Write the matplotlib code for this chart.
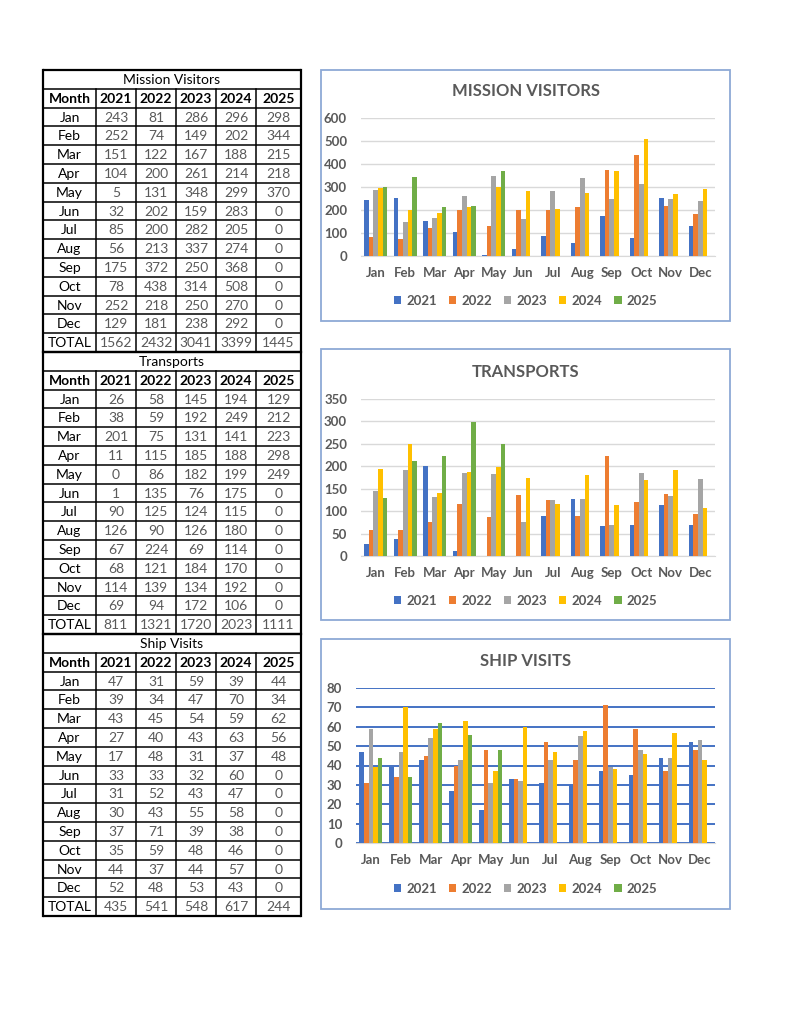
import numpy as np
import matplotlib
matplotlib.use("Agg")
from matplotlib import pyplot as plt
from matplotlib.patches import Rectangle

plt.rcParams['font.family'] = ['Lato', 'DejaVu Sans']

## Data ##
months = ["Jan", "Feb", "Mar", "Apr", "May", "Jun", "Jul", "Aug", "Sep", "Oct", "Nov", "Dec"]
years = ["2021", "2022", "2023", "2024", "2025"]

mission_2021 = [243, 252, 151, 104, 5, 32, 85, 56, 175, 78, 252, 129]
mission_2022 = [81, 74, 122, 200, 131, 202, 200, 213, 372, 438, 218, 181]
mission_2023 = [286, 149, 167, 261, 348, 159, 282, 337, 250, 314, 250, 238]
mission_2024 = [296, 202, 188, 214, 299, 283, 205, 274, 368, 508, 270, 292]
mission_2025 = [298, 344, 215, 218, 370, 0, 0, 0, 0, 0, 0, 0]

transports_2021 = [26, 38, 201, 11, 0, 1, 90, 126, 67, 68, 114, 69]
transports_2022 = [58, 59, 75, 115, 86, 135, 125, 90, 224, 121, 139, 94]
transports_2023 = [145, 192, 131, 185, 182, 76, 124, 126, 69, 184, 134, 172]
transports_2024 = [194, 249, 141, 188, 199, 175, 115, 180, 114, 170, 192, 106]
transports_2025 = [129, 212, 223, 298, 249, 0, 0, 0, 0, 0, 0, 0]

ships_2021 = [47, 39, 43, 27, 17, 33, 31, 30, 37, 35, 44, 52]
ships_2022 = [31, 34, 45, 40, 48, 33, 52, 43, 71, 59, 37, 48]
ships_2023 = [59, 47, 54, 43, 31, 32, 43, 55, 39, 48, 44, 53]
ships_2024 = [39, 70, 59, 63, 37, 60, 47, 58, 38, 46, 57, 43]
ships_2025 = [44, 34, 62, 56, 48, 0, 0, 0, 0, 0, 0, 0]

mission = [mission_2021, mission_2022, mission_2023, mission_2024, mission_2025]
transports = [transports_2021, transports_2022, transports_2023, transports_2024, transports_2025]
ships = [ships_2021, ships_2022, ships_2023, ships_2024, ships_2025]

year_colors = ["#4472C4", "#ED7D31", "#A5A5A5", "#FFC000", "#70AD47"]

W, H = 791, 1024
fig = plt.figure(figsize=(W / 100, H / 100), dpi=100)
fig.patch.set_facecolor("white")

# overlay axes in pixel coordinates (y down)
ov = fig.add_axes([0, 0, 1, 1])
ov.set_xlim(0, W)
ov.set_ylim(H, 0)
ov.axis("off")


## Tables ##
col_x = [43, 96, 136, 176, 216, 256, 301]
row_h = 18.8
tab_top = 70
tab_fs = 10


def draw_table(top, title, series):
    n_rows = 15
    bottom = top + n_rows * row_h
    # title row
    ov.text((col_x[0] + col_x[-1]) / 2, top + row_h / 2 + 0.5, title, ha="center", va="center",
            fontsize=tab_fs, color="black")
    rows = [["Month"] + years]
    for m in range(12):
        rows.append([months[m]] + [str(s[m]) for s in series])
    rows.append(["TOTAL"] + [str(sum(s)) for s in series])
    for r, row in enumerate(rows):
        y = top + (r + 1.5) * row_h + 0.5
        for c, val in enumerate(row):
            xc = (col_x[c] + col_x[c + 1]) / 2
            if r == 0:
                ov.text(xc, y, val, ha="center", va="center", fontsize=tab_fs, fontweight="bold", color="black")
            elif c == 0:
                ov.text(xc, y, val, ha="center", va="center", fontsize=tab_fs, color="black")
            else:
                ov.text(xc, y, val, ha="center", va="center", fontsize=tab_fs, color="#595959")
    # horizontal lines
    for r in range(n_rows + 1):
        y = top + r * row_h
        lw = 1.6 if r in (0, n_rows) else 1.1
        ov.plot([col_x[0], col_x[-1]], [y, y], color="black", lw=lw, solid_capstyle="butt")
    # vertical lines (skip title row for inner)
    for i, x in enumerate(col_x):
        if i in (0, len(col_x) - 1):
            ov.plot([x, x], [top, bottom], color="black", lw=1.6)
        else:
            ov.plot([x, x], [top + row_h, bottom], color="black", lw=1.1)


draw_table(tab_top, "Mission Visitors", mission)
draw_table(tab_top + 15 * row_h, "Transports", transports)
draw_table(tab_top + 30 * row_h, "Ship Visits", ships)


## Charts ##
def px_axes(x0, y0, x1, y1):
    return fig.add_axes([x0 / W, 1 - y1 / H, (x1 - x0) / W, (y1 - y0) / H])


def bar_chart(box, plot, title, title_y, series, ymax, step, legend_y, grid_color, grid_lw):
    bx0, by0, bx1, by1 = box
    ov.add_patch(Rectangle((bx0, by0), bx1 - bx0, by1 - by0, fill=False, edgecolor="#8EA9D6", lw=1.3))
    ov.text((bx0 + bx1) / 2, title_y, title, ha="center", va="center", fontsize=12,
            fontweight="bold", color="#595959")
    ax = px_axes(*plot)
    n = len(series)
    w = 1 / 6.5
    x = np.arange(len(months))
    handles = []
    for i, vals in enumerate(series):
        b = ax.bar(x + (i - (n - 1) / 2) * w, vals, width=w, color=year_colors[i], zorder=3)
        handles.append(b[0])
    ax.set_xlim(-0.5, 11.5)
    ax.set_ylim(0, ymax)
    ax.set_yticks(np.arange(0, ymax + step, step))
    ax.set_xticks(x)
    ax.set_xticklabels(months)
    ax.yaxis.grid(True, color=grid_color, lw=grid_lw, zorder=0)
    ax.set_axisbelow(True)
    for s in ["top", "right", "left"]:
        ax.spines[s].set_visible(False)
    ax.spines["bottom"].set_color("#D9D9D9")
    ax.tick_params(length=0, labelsize=9.5, labelcolor="#595959")
    ax.tick_params(axis="x", pad=8)
    ax.tick_params(axis="y", pad=10)
    for lab in ax.get_xticklabels() + ax.get_yticklabels():
        lab.set_fontweight("bold")
    fig.legend(handles, years, loc="center", bbox_to_anchor=((bx0 + bx1) / 2 / W, 1 - legend_y / H),
               ncol=5, frameon=False, handlelength=0.55, handleheight=0.55, handletextpad=0.35,
               columnspacing=0.95, prop={"size": 9.5, "weight": "bold"}, labelcolor="#595959")
    return ax


bar_chart((321, 70, 730, 321), (361, 118, 715, 256), "MISSION VISITORS", 91,
          mission, 600, 100, 301, "#D9D9D9", 1.0)
bar_chart((321, 349, 730, 620), (361, 399, 715, 556), "TRANSPORTS", 372,
          transports, 350, 50, 601, "#D9D9D9", 1.0)
ax3 = bar_chart((321, 639, 730, 909), (356, 688, 715, 843), "SHIP VISITS", 661,
                ships, 80, 10, 889, "#4472C4", 1.4)

fig.savefig("out.png", dpi=100, facecolor="white")
